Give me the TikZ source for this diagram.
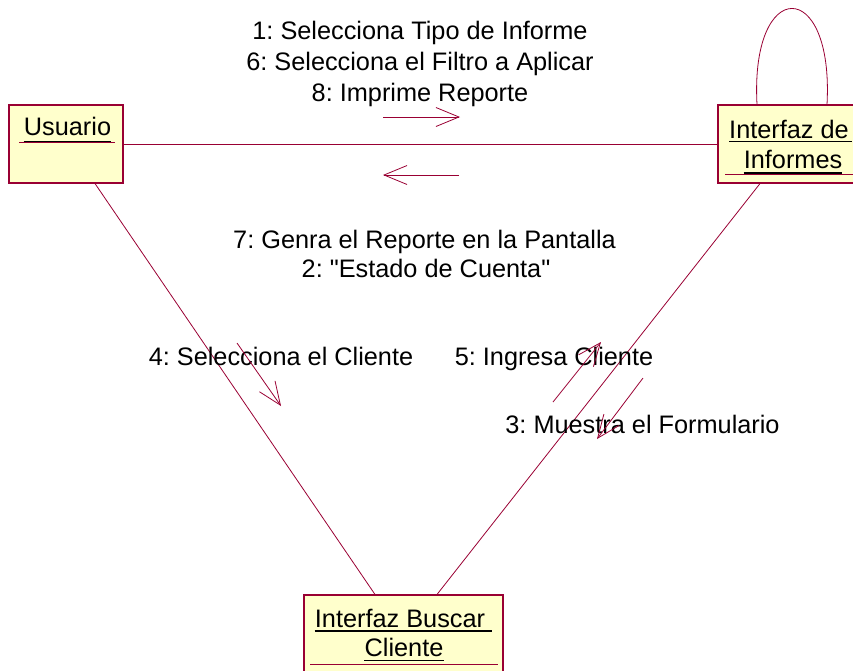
\documentclass[tikz,border=0pt]{standalone}
\usepackage{fontspec}
\setmainfont{Liberation Sans}[Ligatures=TeXOff]
\usetikzlibrary{arrows.meta}
\frenchspacing
\definecolor{lc}{RGB}{153,0,51}
\definecolor{bf}{RGB}{255,255,204}
\tikzset{
  obj/.style={draw=lc, fill=bf, line width=1.1pt, inner sep=0pt},
  lbl/.style={anchor=base, inner sep=0pt, font=\fontsize{25.3}{30}\selectfont},
  link/.style={draw=lc, line width=0.8pt},
  msg/.style={draw=lc, line width=0.8pt, -{Straight Barb[length=23pt,width=19pt]}},
  uline/.style={draw=black, line width=1.6pt},
  sep/.style={draw=lc, line width=0.7pt}
}
\begin{document}
\begin{tikzpicture}[x=1pt,y=-1pt]
\useasboundingbox (0,0) rectangle (853,670);
% boxes
\node[obj, minimum width=114pt, minimum height=78pt] (usuario) at (66,144) {};
\node[obj, minimum width=138pt, minimum height=78pt] (informes) at (787,144) {};
\node[obj, minimum width=199pt, minimum height=78pt] (buscar) at (403.5,634) {};
% links
\draw[link] (usuario) -- (informes);
\draw[link] ([xshift=29pt]usuario.south) -- ([xshift=-28.5pt]buscar.north);
\draw[link] ([xshift=-27pt]informes.south) -- ([xshift=33.5pt]buscar.north);
\draw[link] ([xshift=-30pt]informes.north) .. controls +(-7,-128) and +(7,-128) .. ([xshift=40pt]informes.north);
% box texts
\node[lbl] (tu) at (67.5,135) {Usuario};
\draw[sep] (19,142.6) -- (115,142.6);
\draw[uline] ([yshift=-6.5pt]tu.base west) -- ([yshift=-6.5pt]tu.base east);
\node[lbl] (ti1) at (789,138) {Interfaz de};
\node[lbl] (ti2) at (793,168) {Informes};
\draw[sep] (725,174) -- (856,174);
\draw[uline] ([yshift=-3.5pt]ti1.base west) -- ([yshift=-3.5pt,xshift=3pt]ti1.base east);
\draw[uline] ([yshift=-5pt]ti2.base west) -- ([yshift=-5pt]ti2.base east);
\node[lbl] (tb1) at (400,627) {Interfaz Buscar};
\node[lbl] (tb2) at (404,656) {Cliente};
\draw[sep] (310,664.5) -- (498,664.5);
\draw[uline] ([yshift=-4pt]tb1.base west) -- ([yshift=-4pt,xshift=7pt]tb1.base east);
\draw[uline] ([yshift=-4.5pt]tb2.base west) -- ([yshift=-4.5pt]tb2.base east);
% message labels
\node[lbl] (m1) at (420,39) {1: Selecciona Tipo de Informe};
\node[lbl] (m6) at (420,70) {6: Selecciona el Filtro a Aplicar};
\node[lbl] (m8) at (420,101) {8: Imprime Reporte};
\node[lbl] (m7) at (424.5,248) {7: Genra el Reporte en la Pantalla};
\node[lbl] (m2) at (426,277) {2: "Estado de Cuenta"};
\node[lbl] (m4) at (281,365) {4: Selecciona el Cliente};
\node[lbl] (m5) at (554,365) {5: Ingresa Cliente};
\node[lbl] (m3) at (642.5,433) {3: Muestra el Formulario};
% message arrows
\coordinate (a1s) at (383,117); \coordinate (a1e) at (460,117);
\coordinate (a2s) at (459,175); \coordinate (a2e) at (383,175);
\coordinate (a4s) at (237,343); \coordinate (a4e) at (281,406);
\coordinate (a5s) at (553,402); \coordinate (a5e) at (601,342);
\coordinate (a3s) at (643,378); \coordinate (a3e) at (597,439);
\draw[msg] (a1s) -- (a1e);
\draw[msg] (a2s) -- (a2e);
\draw[msg] (a4s) -- (a4e);
\draw[msg] (a5s) -- (a5e);
\draw[msg] (a3s) -- (a3e);
\end{tikzpicture}
\end{document}
